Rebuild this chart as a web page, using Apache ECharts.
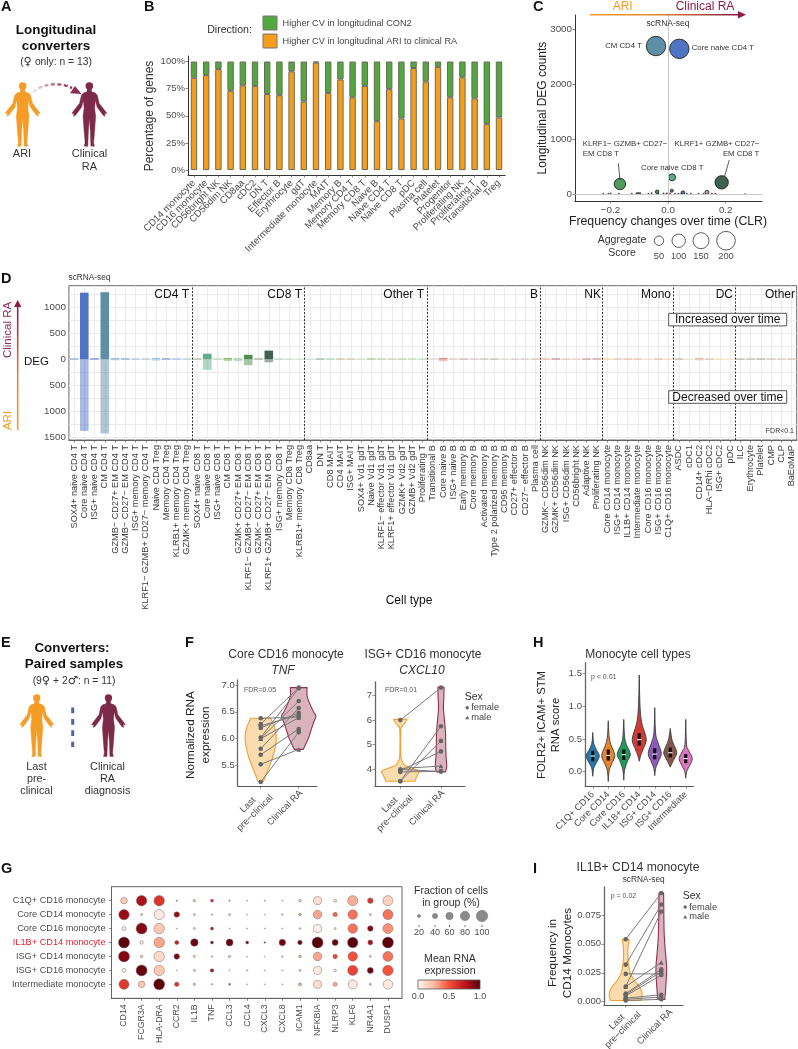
<!DOCTYPE html>
<html><head><meta charset="utf-8">
<script src="https://cdn.jsdelivr.net/npm/echarts@6/dist/echarts.min.js"></script>
<style>html,body{margin:0;padding:0;background:#fff}#c{width:798px;height:1049px}</style>
</head><body><div id="c"></div>
<script>
// ---------- Panel B ----------
const bCats=['CD14 monocyte','CD16 monocyte','CD56bright NK','CD56dim NK','CD8aa','cDC2','DN T','Effector B','Erythrocyte','gdT','Intermediate monocyte','MAIT','Memory B','Memory CD4 T','Memory CD8 T','Naive B','Naive CD4 T','Naive CD8 T','pDC','Plasma cell','Platelet','Progenitor','Proliferating NK','Proliferating T','Transitional B','Treg'];
const bAri=[85,87.5,93,73,78,77.5,70,69,91,63,99,71,83.5,67,77.5,45,74.5,47.5,94,81.5,95,67,85.5,66,42.5,48.5];
const bCon=[15,12.5,7,27,22,22.5,30,31,9,37,1,29,16.5,33,22.5,55,25.5,52.5,6,18.5,5,33,14.5,34,57.5,51.5];
// ---------- Panel C ----------
const cNames=['CM CD4 T','Core naive CD4 T','KLRF1− GZMB+ CD27− EM CD8 T','KLRF1+ GZMB+ CD27− EM CD8 T','Core naive CD8 T','a','b','c','d'];
const cX=[-.042,.039,-.167,.186,.014,-.038,.013,.052,.135];
const cY=[2690,2640,182,212,303,40,60,25,30];
const cScore=[216,216,75,103,28,7,5,7,9];
const cTinyX=[-.225,-.207,-.199,-.171,-.126,-.109,-.103,-.097,-.068,-.057,-.034,-.016,-.005,.007,.024,.036,.047,.065,.079,.106,.123,.152,.164,.267];
const cTinyY=[8,6,10,5,8,12,15,10,6,14,8,10,6,12,8,5,10,8,6,5,8,6,8,5];
const cTinyScore=[2,2,2,2,2,3,3,3,2,2,2,2,3,2,2,2,3,2,2,2,2,2,2,1];
// ---------- Panel D ----------
const dCats=['SOX4+ naive CD4 T','Core naive CD4 T','ISG+ naive CD4 T','CM CD4 T','GZMB− CD27+ EM CD4 T','GZMB− CD27− EM CD4 T','ISG+ memory CD4 T','KLRF1− GZMB+ CD27− memory CD4 T','Naive CD4 Treg','Memory CD4 Treg','KLRB1+ memory CD4 Treg','GZMK+ memory CD4 Treg',
'SOX4+ naive CD8 T','Core naive CD8 T','ISG+ naive CD8 T','CM CD8 T','GZMK+ CD27+ EM CD8 T','KLRF1− GZMB+ CD27− EM CD8 T','GZMK− CD27+ EM CD8 T','KLRF1+ GZMB+ CD27− EM CD8 T','ISG+ memory CD8 T','Memory CD8 Treg','KLRB1+ memory CD8 Treg',
'CD8aa','DN T','CD8 MAIT','CD4 MAIT','ISG+ MAIT','SOX4+ Vd1 gdT','Naive Vd1 gdT','KLRF1− effector Vd1 gdT','KLRF1+ effector Vd1 gdT','GZMK+ Vd2 gdT','GZMB+ Vd2 gdT','Proliferating T',
'Transitional B','Core naive B','ISG+ naive B','Early memory B','Core memory B','Activated memory B','Type 2 polarized memory B','CD95 memory B','CD27+ effector B','CD27− effector B','Plasma cell',
'GZMK− CD56dim NK','GZMK+ CD56dim NK','ISG+ CD56dim NK','CD56bright NK','Adaptive NK','Proliferating NK',
'Core CD14 monocyte','ISG+ CD14 monocyte','IL1B+ CD14 monocyte','Intermediate monocyte','Core CD16 monocyte','ISG+ CD16 monocyte','C1Q+ CD16 monocyte',
'ASDC','cDC1','CD14+ cDC2','HLA−DRhi cDC2','ISG+ cDC2','pDC',
'ILC','Erythrocyte','Platelet','CMP','CLP','BaEoMaP'];
const dUp=[14,1280,16,1290,18,16,14,14,20,16,14,12, 12,105,12,20,15,85,14,165,12,10,10, 12,14,14,14,14,12,14,14,14,14,14,12, 12,24,14,14,14,14,14,12,12,12,14, 14,16,14,14,14,16, 14,14,14,14,12,14,12, 14,10,20,14,14,12, 10,14,14,14,12,14];
const dDown=[14,1380,16,1430,20,16,14,14,30,16,16,12, 12,205,12,35,40,115,14,60,12,10,10, 12,14,14,18,14,12,14,14,14,14,14,12, 12,40,14,14,14,14,14,12,12,12,14, 14,16,14,14,14,16, 14,14,14,14,12,14,12, 14,10,24,14,14,12, 10,14,14,14,12,14];
const dGroupStarts=[12,23,35,46,52,59,65];
const dFacets=['CD4 T','CD8 T','Other T','B','NK','Mono','DC','Other'];
// ---------- Panel F ----------
const f1Left=[6.38,6.27,6.24,6.2,6.02,6.0,6.0,5.81,5.7,5.52,5.19];
const f1Right=[6.4,6.95,6.44,6.48,6.94,6.7,6.39,6.57,6.18,5.8,6.12];
const f1DensityL=[[6.38,.26],[6.2,.37],[6.0,.41],[5.8,.37],[5.6,.29],[5.4,.18],[5.2,.07]];
const f1DensityR=[[6.95,.22],[6.8,.22],[6.65,.29],[6.5,.39],[6.42,.45],[6.3,.39],[6.15,.32],[6.0,.25],[5.8,.12]];
const f2Left=[6.0,4.02,3.98,3.93,3.88,3.5,3.5];
const f2Right=[7.33,4.12,3.9,4.72,3.9,5.75,5.15];
const f2DensityL=[[6.03,.165],[5.9,.12],[5.75,.05],[5.6,.012],[4.6,.012],[4.3,.05],[4.15,.12],[4.0,.34],[3.9,.46],[3.75,.42],[3.6,.38],[3.5,.36]];
const f2DensityR=[[7.35,.075],[6.9,.07],[6.5,.06],[6,.085],[5.5,.11],[5,.115],[4.5,.125],[4.1,.14],[3.88,.11]];
const timeLabels=['Last','pre−clinical','Clinical RA'];
// ---------- Panel G ----------
const gCols=['CD14','FCGR3A','HLA-DRA','CCR2','IL1B','TNF','CCL3','CCL4','CXCL3','CXCL8','ICAM1','NFKBIA','NLRP3','KLF6','NR4A1','DUSP1'];
const gRows=['C1Q+ CD16 monocyte','Core CD14 monocyte','Core CD16 monocyte','IL1B+ CD14 monocyte','ISG+ CD14 monocyte','ISG+ CD16 monocyte','Intermediate monocyte'];
const gFrac=[[52,90,90,5,14,19,5,1,1,1,14,67,19,86,43,86],
[90,10,86,43,11,5,11,1,0,5,14,71,33,81,11,86],
[29,95,90,1,11,19,1,1,0,1,8,67,10,81,43,86],
[95,24,90,29,62,19,57,19,5,52,33,95,48,90,38,95],
[95,14,90,43,11,5,14,1,0,5,14,71,33,81,10,86],
[29,95,90,0,11,24,1,5,1,1,10,67,14,86,48,90],
[86,52,95,33,14,5,10,1,0,1,19,67,29,76,11,81]];
const gMean=[[.18,.8,.62,.35,.2,.65,.3,.1,.3,.1,.2,.1,.1,.28,.62,.15],
[.85,.2,.05,.85,.15,.2,.15,.05,.05,.2,.3,.3,.45,.42,.15,.42],
[.05,.9,.2,.1,.15,.75,.1,.1,.05,.1,.2,.03,.1,.42,.9,.35],
[1,.05,.3,.7,.97,.95,.97,.95,.9,.97,.97,1,.97,1,.8,1],
[.9,.2,.12,.95,.2,.2,.15,.05,.05,.2,.3,.3,.55,.5,.15,.42],
[.03,.97,.2,.05,.15,.8,.1,.1,.05,.1,.25,.05,.1,.55,.97,.5],
[.6,.2,1,.6,.2,.3,.5,.1,.05,.1,.3,.1,.3,.05,.2,.05]];
// ---------- Panel H ----------
const hCats=['C1Q+ CD16','Core CD14','Core CD16','IL1B+ CD14','ISG+ CD14','ISG+ CD16','Intermediate'];
const hMedian=[.24,.25,.26,.49,.27,.29,.2];
const hQ1=[.16,.17,.18,.4,.19,.22,.13];
const hQ3=[.32,.34,.34,.59,.36,.37,.27];
const hDensity=[
[[.6,0],[.45,.05],[.35,.2],[.24,.42],[.12,.2],[.05,.06],[-.07,0]],
[[.78,0],[.55,.05],[.42,.16],[.25,.42],[.12,.22],[.02,.06],[-.15,0]],
[[.8,0],[.55,.05],[.42,.16],[.27,.42],[.15,.22],[.02,.05],[-.13,0]],
[[1.48,0],[1,.05],[.75,.16],[.5,.45],[.35,.26],[.25,.1],[.16,0]],
[[.98,0],[.6,.05],[.45,.2],[.28,.42],[.15,.22],[.05,.06],[-.06,0]],
[[.66,0],[.5,.1],[.42,.22],[.29,.42],[.18,.22],[.12,.1],[.07,0]],
[[.8,0],[.42,.05],[.32,.2],[.2,.42],[.08,.22],[0,.06],[-.1,0]]];
// ---------- Panel I ----------
const iLeft=[.054,.032,.024,.013,.013,.007,.006,.005,.003,.002,.001];
const iRight=[.094,.084,.024,.078,.034,.028,.026,.023,.006,.004,.002];
const iDensityL=[[.054,.1],[.045,.06],[.032,.08],[.024,.14],[.018,.25],[.012,.4],[.007,.46],[.003,.45],[.001,.42]];
const iDensityR=[[.094,.065],[.08,.07],[.06,.08],[.045,.11],[.03,.15],[.02,.14],[.01,.12],[.002,.1]];

// ---------- Styling (not data) ----------
const FONT='"Liberation Sans","DejaVu Sans",sans-serif';
const TXT='#333', TICK='#4d4d4d', OR='#f49c26', RA='#7c2a47', ARROWRED='#8e1a45';
const cColors=['#5f8fa5','#4f74c4','#4f9a5c','#3f6152','#5fae8a','#4f8f55','#4f8f6a','#4f7fa5','#d9a0a0'];
const dColors=['#7f9bd8','#4f74c4','#6a7fc4','#5f8fa5','#8aa8d8','#8aa0c8','#a0b8e0','#a8b8d8','#90b8e8','#7a8fd0','#90b0e0','#a0c0d0',
'#8aa080','#5fae8a','#9fc8a8','#7fae50','#8fc49a','#4f8f55','#8a9a80','#3f6152','#a0c8b0','#b0d0b0','#b8d8c0',
'#b8e0d0','#8fa890','#90d0b0','#c0b890','#c8c0a0','#b8d8c0','#9fb880','#b0c8a0','#c8c8a0','#a8d090','#b0d8a0','#b8d0a8',
'#d8c8c8','#e08888','#e8c0c0','#c8a8a8','#e0b8c0','#c8b8b0','#c0a8a8','#d8c8c0','#d0b8b8','#c8b8b8','#d8b8a8',
'#e8a8a0','#c88090','#e8c0b0','#e8c8b8','#b89090','#d89090',
'#f8d090','#f0b8a0','#f0b090','#f0b8a0','#f8d8c0','#f0b0a0','#f8d0b0',
'#b8b090','#f0e0c0','#e0b890','#c8c0a0','#f8e0a0','#f8e8b0',
'#a09088','#b8a8a0','#b0a098','#c0b8a0','#c8b8a8','#d0c090'];
const hColors=['#2378b0','#e8842a','#1f9a5c','#d23a36','#8e5cb8','#85574c','#dc74c0'];
const PERSON_BODY=[[15,7],[19,7],[19.5,10],[22.5,10.6],[24.8,13],[26.6,21],[33.5,30],[34,31.5],[32,31],[32.5,34],[30.5,33],[24.6,25],[22.8,18],[22.2,26],[23.2,34],[22.2,48],[21.2,60],[22,63.5],[18.5,63.5],[17.9,48],[17,36],[16.1,48],[15.5,63.5],[12,63.5],[12.8,60],[11.8,48],[10.8,34],[11.8,26],[11.2,18],[9.4,25],[3.5,33],[1.5,34],[2,31],[0,31.5],[.5,30],[7.4,21],[9.2,13],[11.5,10.6],[14.5,10]];

const G=[];
function T(x,y,text,o){o=o||{};
 const st={text,x:0,y:0,fill:o.color||TXT,font:(o.style?o.style+' ':'')+(o.weight?o.weight+' ':'')+(o.size||10)+'px '+FONT,align:o.align||'center',verticalAlign:'middle'};
 if(o.rich)st.rich=o.rich;
 G.push({type:'text',x,y,rotation:o.rot||0,z:20,silent:true,style:st});}
function person(x,y,w,h,c){
 const sx=w/34,sy=h/64;
 G.push({type:'polygon',z:10,silent:true,shape:{points:PERSON_BODY.map(p=>[x+p[0]*sx,y+p[1]*sy])},style:{fill:c,stroke:c,lineWidth:.4,lineJoin:'round'}});
 G.push({type:'circle',z:10,silent:true,shape:{cx:x+17*sx,cy:y+4*sy,r:3.7*sx},style:{fill:c}});
}
const UP=Math.PI/2, DIAG=Math.PI/4;
const SYM={s:{fontFamily:'DejaVu Sans',fontSize:11.5,fill:TXT,color:TXT}};

// panel letters
[['A',1,7],['B',144,7],['C',533,7],['D',1,279],['E',1,643],['F',185,643],['H',533,643],['G',1,869],['I',533,869]].forEach(a=>T(a[1],a[2],a[0],{size:14.5,weight:'bold',color:'#111',align:'left'}));

// Panel A
T(56,30,'Longitudinal',{size:13.4,weight:'bold',color:'#111'});
T(56,46,'converters',{size:13.4,weight:'bold',color:'#111'});
T(56,62,'({s|♀} only: n = 13)',{size:10.3,rich:SYM});
person(5.3,82,34.7,64.7,OR); person(72,82,34.7,64.7,RA);
T(22,153.5,'ARI',{size:11}); T(89.5,154,'Clinical',{size:11}); T(89.5,166.5,'RA',{size:11});
G.push({type:'bezierCurve',z:11,silent:true,shape:{x1:33,y1:92,x2:72,y2:88,cpx1:44,cpy1:83,cpx2:60,cpy2:82},style:{fill:'none',lineWidth:2.4,lineDash:[4,2.5],stroke:new echarts.graphic.LinearGradient(33,0,72,0,[{offset:0,color:'#f3e4ea'},{offset:.5,color:'#b77a92'},{offset:1,color:'#8e2a55'}],true)}});
G.push({type:'polygon',z:11,silent:true,shape:{points:[[75,86],[81.5,94],[70,93.3]]},style:{fill:'#8e2a55'}});

// Panel B legend
T(229.5,30,'Direction:',{size:10.6});
[[16,'#52a83f'],[34,'#f59e1b']].forEach(a=>G.push({type:'rect',z:10,silent:true,shape:{x:263,y:a[0],width:14,height:14},style:{fill:a[1],stroke:'#777',lineWidth:1}}));
T(282.5,23,'Higher CV in longitudinal CON2',{size:9.2,align:'left',color:'#444'});
T(282.5,41,'Higher CV in longitudinal ARI to clinical RA',{size:9.2,align:'left',color:'#444'});
T(150,116,'Percentage of genes',{size:12,rot:UP});

// Panel C annotations
G.push({type:'rect',z:10,silent:true,shape:{x:590,y:14,width:148,height:1.6},style:{fill:new echarts.graphic.LinearGradient(590,0,738,0,[{offset:0,color:OR},{offset:.45,color:'#e0882c'},{offset:1,color:ARROWRED}],true)}});
G.push({type:'polygon',z:10,silent:true,shape:{points:[[738,11],[746,14.8],[738,18.5]]},style:{fill:ARROWRED}});
T(622.7,7,'ARI',{size:12,color:OR}); T(705,7,'Clinical RA',{size:12,color:ARROWRED});
T(668,24,'scRNA-seq',{size:8.5});
T(543,108,'Longitudinal DEG counts',{size:12,rot:UP,color:'#222'});
T(668,222,'Frequency changes over time (CLR)',{size:12.3,color:'#222'});
T(642,46,'CM CD4 T',{size:7.8,align:'right'});
T(691.7,48,'Core naive CD4 T',{size:7.8,align:'left'});
T(582.7,144.3,'KLRF1− GZMB+ CD27−',{size:7.8,align:'left'});
T(582.7,153.5,'EM CD8 T',{size:7.8,align:'left'});
T(759.3,144.3,'KLRF1+ GZMB+ CD27−',{size:7.8,align:'right'});
T(759.3,153.5,'EM CD8 T',{size:7.8,align:'right'});
T(672.3,167.5,'Core naive CD8 T',{size:7.8});
[[618.3,163.3,620,180],[729.3,160,724.5,176.5]].forEach(l=>G.push({type:'line',z:12,silent:true,shape:{x1:l[0],y1:l[1],x2:l[2],y2:l[3]},style:{stroke:'#333',lineWidth:.8}}));
T(622,240.5,'Aggregate',{size:10.5}); T(622,253,'Score',{size:10.5});
[[659,4.7,'50'],[678.7,6.7,'100'],[701,8,'150'],[726,9.3,'200']].forEach(a=>{
 G.push({type:'circle',z:10,silent:true,shape:{cx:a[0],cy:240.7,r:a[1]},style:{fill:'#fff',stroke:'#333',lineWidth:.8}});
 T(a[0],256.5,a[2],{size:9.3,color:TICK});});

// Panel D annotations
T(68.5,278,'scRNA-seq',{size:8.3,align:'left'});
T(24,362,'DEG',{size:11.5,align:'left',color:'#111'});
G.push({type:'rect',z:10,silent:true,shape:{x:16.9,y:306,width:1.6,height:124},style:{fill:new echarts.graphic.LinearGradient(0,306,0,430,[{offset:0,color:ARROWRED},{offset:.55,color:'#d08a40'},{offset:1,color:OR}],true)}});
G.push({type:'polygon',z:10,silent:true,shape:{points:[[14,307],[17.7,300],[21.4,307]]},style:{fill:ARROWRED}});
T(8,330,'Clinical RA',{size:11.5,rot:UP,color:'#8e2a55'});
T(8,420.5,'ARI',{size:11.5,rot:UP,color:OR});
[189,302,424,538,601,671,733,795].forEach((x,i)=>T(x,295,dFacets[i],{size:12,align:'right',color:'#111'}));
[[313.3,'Increased over time'],[390.7,'Decreased over time']].forEach(a=>{
 G.push({type:'rect',z:12,silent:true,shape:{x:668.7,y:a[0],width:118,height:12.6},style:{fill:'#fff',stroke:'#555',lineWidth:1}});
 T(727.7,a[0]+6.5,a[1],{size:12,color:'#111'});});
T(794,431.5,'FDR<0.1',{size:7,align:'right'});
T(409,601,'Cell type',{size:12,color:'#111'});

// Panel E
T(72,648.7,'Converters:',{size:13.4,weight:'bold',color:'#111'});
T(74,664,'Paired samples',{size:13.4,weight:'bold',color:'#111'});
T(74,680.7,'(9{s|♀} + 2{s|♂}: n = 11)',{size:10.3,rich:SYM});
person(20,694,33.5,63,OR); person(91.7,694,33.5,63,RA);
G.push({type:'line',z:10,silent:true,shape:{x1:72.7,y1:707.5,x2:72.7,y2:747},style:{stroke:'#4a62b0',lineWidth:3,lineDash:[5.8,5.6]}});
T(36.5,767,'Last',{size:10.8}); T(36.5,779,'pre-',{size:10.8}); T(36.5,791,'clinical',{size:10.8});
T(107.5,767,'Clinical',{size:10.8}); T(107.5,779,'RA',{size:10.8}); T(107.5,791,'diagnosis',{size:10.8});

// Panel F text
T(286,655,'Core CD16 monocyte',{size:12});
T(283,671,'TNF',{size:12,style:'italic'});
T(423,655,'ISG+ CD16 monocyte',{size:12});
T(422,671,'CXCL10',{size:12,style:'italic'});
T(191,735,'Normalized RNA',{size:11.8,rot:UP,color:'#222'});
T(206,735,'expression',{size:11.8,rot:UP,color:'#222'});
T(244,690,'FDR=0.05',{size:7,align:'left',color:'#555'});
T(385,690,'FDR=0.01',{size:7,align:'left',color:'#555'});
function sexLegend(x,y){
 T(x,y,'Sex',{size:10.5,align:'left'});
 G.push({type:'circle',z:10,silent:true,shape:{cx:x+2.5,cy:y+11,r:1.7},style:{fill:'#666'}});
 G.push({type:'polygon',z:10,silent:true,shape:{points:[[x+.5,y+22.5],[x+2.5,y+19],[x+4.5,y+22.5]]},style:{fill:'#666'}});
 T(x+6.5,y+11,'female',{size:9.3,align:'left',color:'#444'});
 T(x+6.5,y+20.5,'male',{size:9.3,align:'left',color:'#444'});}
sexLegend(464.7,696.7);
function timeText(a,b,c){
 T(a[0],a[1],timeLabels[0],{size:9.4,rot:DIAG,color:TICK});
 T(b[0],b[1],timeLabels[1],{size:9.4,rot:DIAG,color:TICK});
 T(c[0],c[1],timeLabels[2],{size:9.4,rot:DIAG,color:TICK});}
timeText([248,805],[255,813],[285,808]);
timeText([390,805],[395,813.5],[427,808]);
timeText([617,1022],[623,1030],[655,1027]);

// Panel H text
T(638,655,'Monocyte cell types',{size:12});
T(542,725,'FOLR2+ ICAM+ STM',{size:11.3,rot:UP,color:'#222'});
T(556,725,'RNA score',{size:11.3,rot:UP,color:'#222'});
T(591,677,'p < 0.01',{size:7,align:'left',color:'#555'});

// Panel G legends
T(451,891,'Fraction of cells',{size:10.6}); T(451,903,'in group (%)',{size:10.6});
[[419,20],[435,40],[449.5,60],[465,80],[482,100]].forEach(a=>{
 G.push({type:'circle',z:10,silent:true,shape:{cx:a[0],cy:916,r:(1+.105*a[1])/2},style:{fill:'#8a8a8a',stroke:'#777',lineWidth:.5}});
 G.push({type:'line',z:10,silent:true,shape:{x1:a[0],y1:925,x2:a[0],y2:927},style:{stroke:'#555',lineWidth:.8}});
 T(a[0],933,String(a[1]),{size:9,color:TICK});});
T(450,959,'Mean RNA',{size:10.6}); T(450,971.5,'expression',{size:10.6});
const REDS=[{offset:0,color:'#fff5f0'},{offset:.25,color:'#fcbba1'},{offset:.5,color:'#f5503a'},{offset:.75,color:'#c2141c'},{offset:1,color:'#5c0010'}];
G.push({type:'rect',z:10,silent:true,shape:{x:418,y:980,width:62,height:9},style:{stroke:'#555',lineWidth:.8,fill:new echarts.graphic.LinearGradient(418,0,480,0,REDS,true)}});
[[418,'0.0'],[449,'0.5'],[480,'1.0']].forEach(a=>T(a[0],997,a[1],{size:9,color:TICK}));

// Panel I text
T(638,867.7,'IL1B+ CD14 monocyte',{size:12.2});
T(643.7,880,'scRNA-seq',{size:8.3});
T(552.7,953,'Frequency in',{size:11.8,rot:UP,color:'#222'});
T(567.7,953,'CD14 Monocytes',{size:11.8,rot:UP,color:'#222'});
T(610.7,895.7,'p = 0.02',{size:7,align:'left',color:'#555'});
sexLegend(682.7,896);

// ---------- Axes ----------
const grids=[],xA=[],yA=[],S=[];
function addGrid(l,t,r,b){grids.push({left:l,top:t,width:r-l,height:b-t,show:false});return grids.length-1;}
function line(c,w){return {show:true,onZero:false,lineStyle:{color:c||'#333',width:w||1}};}
function tick(c,len){return {show:true,length:len||2.5,lineStyle:{color:c||'#555',width:.7}};}
function lab(size,o){return Object.assign({color:TICK,fontSize:size,fontFamily:FONT,margin:3},o||{});}

// B
let g=addGrid(187.9,56,505.1,175);
xA.push({gridIndex:g,type:'category',data:bCats,axisLine:line(),axisTick:Object.assign(tick(),{alignWithLabel:true}),axisLabel:lab(9.6,{rotate:45,interval:0,margin:6.5}),splitLine:{show:false}});
yA.push({gridIndex:g,type:'value',min:-4.6,max:105.07,axisLine:line(),axisTick:Object.assign(tick(),{customValues:[0,25,50,75,100]}),axisLabel:lab(9.5,{customValues:[0,25,50,75,100],formatter:v=>v+'%'}),splitLine:{show:false}});
const barBase={type:'bar',stack:'b',xAxisIndex:0,yAxisIndex:0,barWidth:6.4,silent:true};
S.push(Object.assign({},barBase,{name:'Higher CV in longitudinal ARI to clinical RA',data:bAri,itemStyle:{color:'#f59e1b',borderColor:'#6a6a5a',borderWidth:1}}));
S.push(Object.assign({},barBase,{name:'Higher CV in longitudinal CON2',data:bCon,itemStyle:{color:'#52a83f',borderColor:'#6a6a5a',borderWidth:1}}));

// C
g=addGrid(575,15,762,201);
xA.push({gridIndex:g,type:'value',min:-.323,max:.326,axisLine:line(),axisTick:Object.assign(tick(),{customValues:[-.2,0,.2]}),axisLabel:lab(9.8,{customValues:[-.2,0,.2],formatter:v=>v.toFixed(1).replace('-','−'),margin:4}),splitLine:{show:false}});
yA.push({gridIndex:g,type:'value',min:-127,max:3255,axisLine:line(),axisTick:Object.assign(tick(),{customValues:[0,1000,2000,3000]}),axisLabel:lab(9.8,{customValues:[0,1000,2000,3000],formatter:v=>String(v)}),splitLine:{show:false}});
const size=s=>Math.sqrt(s)*1.32;
S.push({type:'scatter',xAxisIndex:1,yAxisIndex:1,silent:true,data:cTinyX.map((x,i)=>[x,cTinyY[i],cTinyScore[i]]),symbolSize:v=>size(v[2]),itemStyle:{color:'#222'},
 markLine:{silent:true,symbol:'none',label:{show:false},animation:false,lineStyle:{color:'#c8c8c8',type:'solid',width:1},data:[{xAxis:0},{yAxis:0}]},z:3});
S.push({type:'scatter',xAxisIndex:1,yAxisIndex:1,silent:true,z:4,data:cX.map((x,i)=>({name:cNames[i],value:[x,cY[i],cScore[i]],itemStyle:{color:cColors[i]}})),symbolSize:v=>size(v[2]),itemStyle:{borderColor:'#222',borderWidth:.9,opacity:1}});

// D
g=addGrid(68.9,285.7,796.7,440);
const dIx=xA.length, dIy=yA.length;
xA.push({gridIndex:g,type:'category',data:dCats,axisLine:{show:true,onZero:false,lineStyle:{color:'#666'}},axisTick:Object.assign(tick('#555'),{alignWithLabel:true}),axisLabel:lab(9.2,{rotate:90,interval:0,margin:5,color:'#3c3c3c'}),splitLine:{show:true,alignWithLabel:true,interval:0,lineStyle:{color:'#ececec',width:1}}});
xA.push({gridIndex:g,type:'value',min:0,max:71,show:false});
const d500=[-1500,-1000,-500,0,500,1000],d250=[-1500,-1250,-1000,-750,-500,-250,0,250,500,750,1000,1250];
yA.push({gridIndex:g,type:'value',min:-1556,max:1415,axisLine:{show:false},axisTick:{show:false,customValues:d250},axisLabel:lab(9.8,{customValues:d500,formatter:v=>String(Math.abs(v))}),splitLine:{show:true,lineStyle:{color:'#ececec',width:1}}});
S.push({type:'bar',xAxisIndex:dIx,yAxisIndex:dIy,silent:true,barWidth:8.6,barGap:'-100%',data:dUp.map((v,i)=>({value:v,itemStyle:{color:dColors[i]}})),z:3});
S.push({type:'bar',xAxisIndex:dIx,yAxisIndex:dIy,silent:true,barWidth:8.6,barGap:'-100%',data:dDown.map((v,i)=>({value:-v,itemStyle:{color:dColors[i],opacity:.5}})),z:3});
S.push({type:'line',xAxisIndex:dIx+1,yAxisIndex:dIy,silent:true,data:[],z:4,symbol:'none',
 markLine:{silent:true,symbol:'none',label:{show:false},animation:false,lineStyle:{color:'#333',type:[2,1.5],width:1},data:dGroupStarts.map(v=>({xAxis:v}))}});
grids[g].show=true; grids[g].borderColor='#666'; grids[g].borderWidth=1; grids[g].backgroundColor='transparent';

// violin helpers: each side is drawn as a Catmull-Rom curve through the read outline points
function spline(pts){
 const out=[];
 for(let i=0;i<pts.length-1;i++){
  const p0=pts[Math.max(i-1,0)],p1=pts[i],p2=pts[i+1],p3=pts[Math.min(i+2,pts.length-1)];
  for(let k=0;k<6;k++){const t=k/6,t2=t*t,t3=t2*t;
   out.push([.5*(2*p1[0]+(p2[0]-p0[0])*t+(2*p0[0]-5*p1[0]+4*p2[0]-p3[0])*t2+(3*p1[0]-p0[0]-3*p2[0]+p3[0])*t3),
             .5*(2*p1[1]+(p2[1]-p0[1])*t+(2*p0[1]-5*p1[1]+4*p2[1]-p3[1])*t2+(3*p1[1]-p0[1]-3*p2[1]+p3[1])*t3)]);}
 }
 out.push(pts[pts.length-1]);return out;
}
function violin(xi,yi,centers,shapes,fills,strokes,lw,z){
 return {type:'custom',xAxisIndex:xi,yAxisIndex:yi,silent:true,z:z||2,clip:false,
  data:centers.map((c,i)=>[c,shapes[i][0][0],i]),encode:{x:0,y:1},
  renderItem(p,api){
   const i=api.value(2),c=api.value(0),u=api.size([1,0])[0],sh=shapes[i];
   const cx=api.coord([c,sh[0][0]])[0];
   const right=spline(sh.map(s=>[cx+s[1]*u,api.coord([c,s[0]])[1]]));
   const left=spline(sh.slice().reverse().map(s=>[cx-s[1]*u,api.coord([c,s[0]])[1]]));
   return {type:'polygon',shape:{points:right.concat(left)},style:{fill:fills[i],stroke:strokes[i],lineWidth:lw||1.1,lineJoin:'round'}};
  }};
}
function pairs(xi,yi,L,R){
 return {type:'custom',xAxisIndex:xi,yAxisIndex:yi,silent:true,z:3,clip:false,data:L.map((v,i)=>[1,v,2,R[i]]),encode:{x:[0,2],y:[1,3]},
  renderItem(p,api){const a=api.coord([api.value(0),api.value(1)]),b=api.coord([api.value(2),api.value(3)]);
   return {type:'line',shape:{x1:a[0],y1:a[1],x2:b[0],y2:b[1]},style:{stroke:'#7a7a7a',lineWidth:1}};}};
}
function points(xi,yi,L,R,maleL,maleR){
 const d=L.map((v,i)=>({value:[1,v],symbol:maleL.includes(i)?'triangle':'circle'})).concat(R.map((v,i)=>({value:[2,v],symbol:maleR.includes(i)?'triangle':'circle'})));
 return {type:'scatter',xAxisIndex:xi,yAxisIndex:yi,silent:true,z:4,symbolSize:4.6,data:d,itemStyle:{color:'#666',opacity:1}};
}
function pairedGrid(l,t,r,b,xmin,xmax,ymin,ymax,yticks,fmt,L,R,dL,dR,mL,mR,labelSize){
 const gg=addGrid(l,t,r,b),xi=xA.length,yi=yA.length;
 xA.push({gridIndex:gg,type:'value',min:xmin,max:xmax,axisLine:line('#555'),axisTick:Object.assign(tick('#555'),{customValues:[1,2]}),axisLabel:{show:false},splitLine:{show:false}});
 yA.push({gridIndex:gg,type:'value',min:ymin,max:ymax,axisLine:line('#666',1.3),axisTick:Object.assign(tick('#666'),{customValues:yticks}),axisLabel:lab(labelSize||9.5,{customValues:yticks,formatter:fmt}),splitLine:{show:false}});
 S.push(violin(xi,yi,[1,2],[dL,dR],['#fbdcae','#d9b4bd'],['#f0a030','#962d50']));
 S.push(pairs(xi,yi,L,R));
 S.push(points(xi,yi,L,R,mL,mR));
}
// F
pairedGrid(237.7,680,317,786,.395,2.48,5.116,7.093,[5.5,6,6.5,7],v=>v.toFixed(1),f1Left,f1Right,f1DensityL,f1DensityR,[5,6],[6,9]);
pairedGrid(375,682,465,786,.378,2.59,3.303,7.56,[4,5,6,7],v=>String(v),f2Left,f2Right,f2DensityL,f2DensityR,[1],[1]);

// H
g=addGrid(585,662.7,693.5,786);
const hx=xA.length,hy=yA.length;
xA.push({gridIndex:g,type:'category',data:hCats,axisLine:line('#555'),axisTick:Object.assign(tick('#555'),{alignWithLabel:true}),axisLabel:lab(9.2,{rotate:45,interval:0,margin:7}),splitLine:{show:false}});
yA.push({gridIndex:g,type:'value',min:-.219,max:1.669,axisLine:line('#666',1.3),axisTick:Object.assign(tick('#666'),{customValues:[0,.5,1,1.5]}),axisLabel:lab(9.5,{customValues:[0,.5,1,1.5],formatter:v=>v.toFixed(1)}),splitLine:{show:false}});
S.push(violin(hx,hy,hCats.map((c,i)=>i),hDensity,hColors,hColors.map(()=>'#3a3a3a'),.9));
S.push({type:'custom',xAxisIndex:hx,yAxisIndex:hy,silent:true,z:5,clip:false,data:hMedian.map((m,i)=>[i,m,hQ1[i],hQ3[i]]),encode:{x:0,y:1},
 renderItem(p,api){const i=api.value(0),m=api.coord([i,api.value(1)]),a=api.coord([i,api.value(2)]),b=api.coord([i,api.value(3)]);
  return {type:'group',children:[
   {type:'line',shape:{x1:a[0],y1:a[1],x2:b[0],y2:b[1]},style:{stroke:'#111',lineWidth:3.2}},
   {type:'line',shape:{x1:m[0]-2.2,y1:m[1],x2:m[0]+2.2,y2:m[1]},style:{stroke:'#fff',lineWidth:1.1}}]};}});

// G
g=addGrid(111.5,886.7,402,998.3);
grids[g].show=true; grids[g].borderColor='#666'; grids[g].borderWidth=1;
const gx=xA.length,gy=yA.length;
xA.push({gridIndex:g,type:'value',min:-.71,max:15.8,axisLine:line('#666'),axisTick:Object.assign(tick('#555'),{customValues:gCols.map((c,i)=>i)}),axisLabel:lab(8.8,{customValues:gCols.map((c,i)=>i),rotate:90,formatter:v=>gCols[v],margin:6}),splitLine:{show:false}});
yA.push({gridIndex:g,type:'value',inverse:true,min:-1,max:7,axisLine:line('#666'),axisTick:Object.assign(tick('#555'),{customValues:gRows.map((c,i)=>i)}),
 axisLabel:lab(9.2,{customValues:gRows.map((c,i)=>i),margin:6,formatter:v=>v===3?'{r|'+gRows[v]+'}':gRows[v],rich:{r:{color:'#e0262b',fontSize:9.2,fontFamily:FONT}}}),splitLine:{show:false}});
const gIdx=S.length;
const gData=[];gFrac.forEach((r,ri)=>r.forEach((f,ci)=>gData.push([ci,ri,gMean[ri][ci],f])));
S.push({type:'scatter',xAxisIndex:gx,yAxisIndex:gy,silent:true,z:3,data:gData,symbolSize:v=>Math.max(.9,1+.105*v[3]),itemStyle:{borderColor:'#6f6f6f',borderWidth:.5,opacity:1}});

// I
pairedGrid(604,887,683,1005,.39,2.61,-.0029,.0992,[0,.025,.05,.075],v=>v.toFixed(3),iLeft,iRight,iDensityL,iDensityR,[3],[4],9.5);

const chart=echarts.init(document.getElementById('c'),null,{renderer:'canvas'});
chart.setOption({animation:false,backgroundColor:'#fff',textStyle:{fontFamily:FONT},grid:grids,xAxis:xA,yAxis:yA,series:S,graphic:{elements:G},
 visualMap:{show:false,seriesIndex:gIdx,dimension:2,min:0,max:1,inRange:{color:REDS.map(s=>s.color)}}});
</script></body></html>
